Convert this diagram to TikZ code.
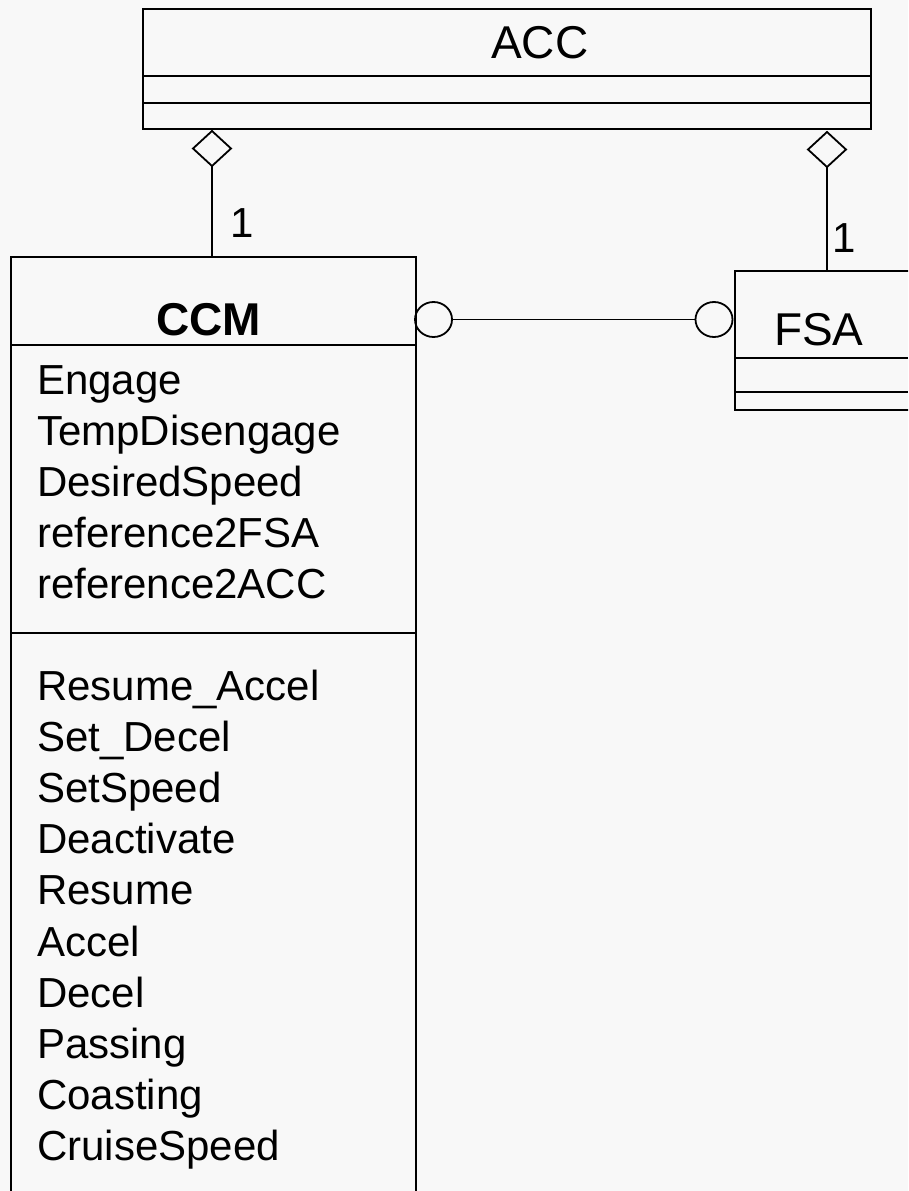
\documentclass[tikz,border=0pt]{standalone}
\usepackage{fontspec}
\setmainfont{Liberation Sans}
\usetikzlibrary{shapes.geometric}
\definecolor{bg}{HTML}{F8F8F8}
\begin{document}
\begin{tikzpicture}[x=1pt,y=-1pt,
  box/.style={draw, line width=2pt, rectangle, inner sep=0pt, outer sep=0pt},
  sep/.style={line width=2pt},
  conn/.style={line width=1.8pt},
  agg/.style={diamond, draw, line width=1.8pt, fill=bg, minimum width=38pt, minimum height=35pt, inner sep=0pt, outer sep=0pt},
  port/.style={ellipse, draw, line width=1.8pt, minimum width=37pt, minimum height=35pt, inner sep=0pt, outer sep=0pt},
  title/.style={font=\fontsize{46}{55}\selectfont, anchor=base west, inner sep=0pt},
  item/.style={font=\fontsize{42}{50}\selectfont, anchor=base west, inner sep=0pt}]
\fill[bg] (0,0) rectangle (908,1191);
\useasboundingbox (0,0) rectangle (908,1191);
\clip (0,0) rectangle (908,1191);

% ACC class
\node[box, minimum width=728pt, minimum height=120pt] (acc) at (507,69) {};
\draw[sep] (143,76) -- (871,76);
\draw[sep] (143,103) -- (871,103);
\node[title] (acct) at (491,58) {ACC};

% CCM class
\node[box, minimum width=405pt, minimum height=1000pt] (ccm) at (213.5,757) {};
\draw[sep] (11,345) -- (416,345);
\draw[sep] (11,633) -- (416,633);
\node[title, font=\fontsize{46}{55}\selectfont\bfseries] (ccmt) at (156,335) {CCM};
\foreach \t [count=\i from 0] in {Engage,TempDisengage,DesiredSpeed,reference2FSA,reference2ACC}
  \node[item] (attr\i) at (37,{394+51*\i}) {\t};
\foreach \t [count=\i from 0] in {Resume\_Accel,Set\_Decel,SetSpeed,Deactivate,Resume,Accel,Decel,Passing,Coasting,CruiseSpeed}
  \node[item] (op\i) at (37,{700+51.2*\i}) {\t};

% FSA class
\node[box, minimum width=240pt, minimum height=139pt] (fsa) at (855,340.5) {};
\draw[sep] (735,358) -- (908,358);
\draw[sep] (735,392) -- (908,392);
\node[title] (fsat) at (774,345) {FSA};

% aggregations
\node[agg] (d1) at (212,148.5) {};
\node[agg] (d2) at (827,149.5) {};
\draw[conn] (d1.south) -- (d1.south |- ccm.north);
\draw[conn] (d2.south) -- (d2.south |- fsa.north);
\node[item] (m1) at (230,237) {1};
\node[item] (m2) at (832,252) {1};

% interface link
\node[port] (p1) at (433.5,319.5) {};
\node[port] (p2) at (714,319.5) {};
\draw[conn] (p1) -- (p2);
\end{tikzpicture}
\end{document}
